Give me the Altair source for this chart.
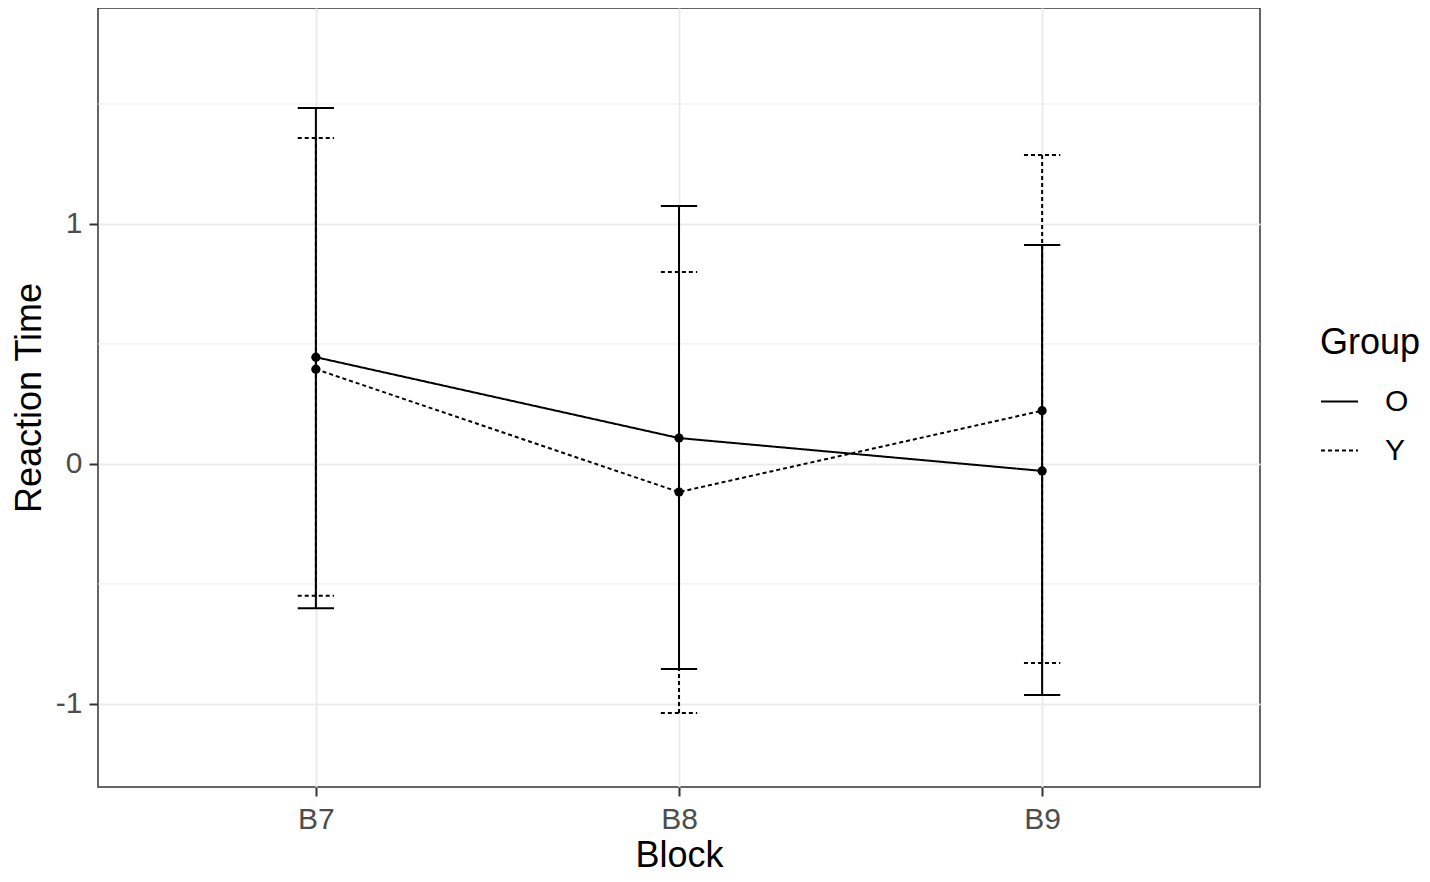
import altair as alt
import pandas as pd

blocks = ["B7", "B8", "B9"]
block_idx = [1, 2, 3]
groups = ["O", "Y"]
o_mean = [0.445, 0.108, -0.029]
o_lower = [-0.601, -0.854, -0.9625]
o_upper = [1.483, 1.075, 0.9125]
y_mean = [0.395, -0.117, 0.222]
y_lower = [-0.549, -1.0375, -0.829]
y_upper = [1.358, 0.80, 1.2875]
minor_grid = [-0.5, 0.5, 1.5]
major_ticks = [-1, 0, 1]

rows = []
for g, m, lo, up in [("O", o_mean, o_lower, o_upper), ("Y", y_mean, y_lower, y_upper)]:
    for b, i, mv, lv, uv in zip(blocks, block_idx, m, lo, up):
        rows.append({"Block": b, "idx": i, "Group": g, "mean": mv, "lower": lv, "upper": uv})
df = pd.DataFrame(rows)
grid_df = pd.DataFrame({"v": minor_grid})

FONT = "Arial, Liberation Sans, sans-serif"
label_expr = "[" + ",".join("'" + b + "'" for b in blocks) + "][datum.value - 1]"

xscale = alt.Scale(domain=[0.4, 3.6], nice=False, zero=False)
yscale = alt.Scale(domain=[-1.346, 1.9], nice=False, zero=False)

legend = alt.Legend(orient="none", legendX=1222, legendY=318,
                    symbolType="stroke", symbolSize=1369,
                    symbolStrokeWidth=2, symbolStrokeColor="black",
                    titleFontSize=36, titleFont=FONT,
                    titleFontWeight="normal", titleColor="black",
                    labelFontSize=30, labelFont=FONT,
                    labelColor="black", labelOffset=26,
                    titlePadding=20, rowPadding=14)
dash_enc = alt.StrokeDash("Group:N", scale=alt.Scale(domain=groups, range=[[1, 0], [4, 3]]),
                          title="Group", legend=legend)

xaxis = alt.Axis(values=block_idx, labelExpr=label_expr, title="Block",
                 grid=True, gridColor="#ebebeb", gridWidth=2, domain=False,
                 tickColor="#333333", tickWidth=2, tickSize=9, labelPadding=8,
                 labelFontSize=30, labelColor="#4d4d4d", labelFont=FONT,
                 titleFontSize=36, titleFont=FONT, titleColor="black",
                 titleFontWeight="normal", titlePadding=4)
yaxis = alt.Axis(values=major_ticks, labelExpr="toString(datum.value)", title="Reaction Time",
                 grid=True, gridColor="#ebebeb", gridWidth=2, domain=False,
                 tickColor="#333333", tickWidth=2, tickSize=9, labelPadding=7,
                 labelFontSize=30, labelColor="#4d4d4d", labelFont=FONT,
                 titleFontSize=36, titleFont=FONT, titleColor="black",
                 titleFontWeight="normal", titlePadding=7)

base = alt.Chart(df)

minor = alt.Chart(grid_df).mark_rule(color="#ebebeb", strokeWidth=1).encode(
    y=alt.Y("v:Q", scale=yscale, axis=yaxis)
)

bars = base.mark_rule(color="black", strokeWidth=2).encode(
    x=alt.X("idx:Q", scale=xscale, axis=xaxis),
    y=alt.Y("lower:Q", scale=yscale),
    y2="upper:Q",
    strokeDash=dash_enc,
)

caps_lo = base.transform_calculate(x1="datum.idx - 0.05", x2="datum.idx + 0.05").mark_rule(
    color="black", strokeWidth=2).encode(
    x=alt.X("x1:Q", scale=xscale), x2="x2:Q",
    y=alt.Y("lower:Q", scale=yscale),
    strokeDash=dash_enc,
)
caps_hi = base.transform_calculate(x1="datum.idx - 0.05", x2="datum.idx + 0.05").mark_rule(
    color="black", strokeWidth=2).encode(
    x=alt.X("x1:Q", scale=xscale), x2="x2:Q",
    y=alt.Y("upper:Q", scale=yscale),
    strokeDash=dash_enc,
)

lines = base.mark_line(color="black", strokeWidth=2).encode(
    x=alt.X("idx:Q", scale=xscale),
    y=alt.Y("mean:Q", scale=yscale),
    strokeDash=dash_enc,
    detail="Group:N",
)

points = base.mark_circle(color="black", size=85, opacity=1).encode(
    x=alt.X("idx:Q", scale=xscale),
    y=alt.Y("mean:Q", scale=yscale),
)

chart = alt.layer(minor, bars, caps_lo, caps_hi, lines, points).properties(
    width=1162, height=779,
    autosize=alt.AutoSizeParams(type="none"),
    padding={"left": 90, "top": 0, "right": 162, "bottom": 87},
).configure(background="white").configure_view(stroke="#333333", strokeWidth=1.5)

chart.save("out.html", embed_options={"renderer": "svg", "actions": False})
